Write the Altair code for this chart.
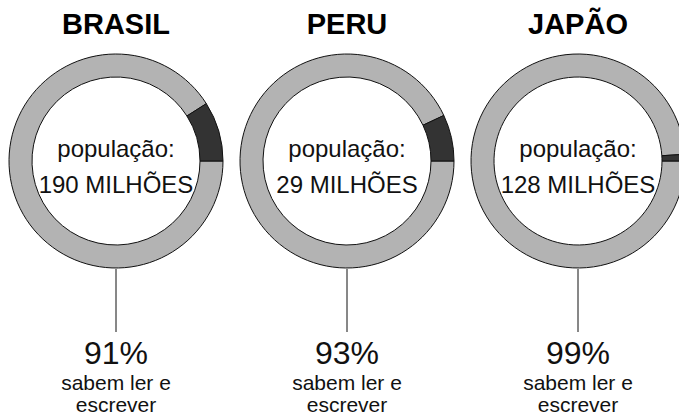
import math
import altair as alt
import pandas as pd

paises = ["BRASIL", "PERU", "JAPÃO"]
populacao = ["190 MILHÕES", "29 MILHÕES", "128 MILHÕES"]
alfabetizados = [91, 93, 99]

rows = []
for p, pop, a in zip(paises, populacao, alfabetizados):
    rows.append({"pais": p, "grupo": "sabem", "pct": a, "ord": 0})
    rows.append({"pais": p, "grupo": "não sabem", "pct": 100 - a, "ord": 1})
arcs_df = pd.DataFrame(rows)

info_df = pd.DataFrame({
    "pais": paises,
    "pop": populacao,
    "label": [f"{a}%" for a in alfabetizados],
})

FONT = "Liberation Sans"
xenc = alt.X("pais:N", sort=paises,
             scale=alt.Scale(type="point", range=[116, 578], padding=0),
             axis=None)

donuts = alt.Chart(arcs_df).transform_stack(
    stack="pct", as_=["t0", "t1"], groupby=["pais"], sort=[alt.SortField("ord")]
).mark_arc(radius=107, radius2=84, stroke="#111111", strokeWidth=1).encode(
    x=xenc,
    y=alt.value(161),
    theta=alt.Theta("t0:Q", scale=alt.Scale(domain=[0, 100], range=[math.pi / 2, math.pi / 2 + 2 * math.pi])),
    theta2="t1:Q",
    color=alt.Color("grupo:N", scale=alt.Scale(domain=["sabem", "não sabem"], range=["#b3b3b3", "#333333"]), legend=None),
)

base = alt.Chart(info_df)

stems = base.mark_rule(color="#111111", strokeWidth=1).encode(
    x=xenc, y=alt.value(269), y2=alt.value(332)
)

titles = base.mark_text(font=FONT, fontSize=29, fontWeight="bold", baseline="alphabetic", color="#000000").encode(
    x=xenc, y=alt.value(34), text="pais:N"
)

pop_lbl = base.mark_text(font=FONT, fontSize=24, baseline="alphabetic", color="#111111", text="população:").encode(
    x=xenc, y=alt.value(157)
)

pop_val = base.mark_text(font=FONT, fontSize=24, baseline="alphabetic", color="#111111").encode(
    x=xenc, y=alt.value(193), text="pop:N"
)

pct_lbl = base.mark_text(font=FONT, fontSize=32, baseline="alphabetic", color="#111111").encode(
    x=xenc, y=alt.value(364), text="label:N"
)

line1 = base.mark_text(font=FONT, fontSize=21, baseline="alphabetic", color="#111111", text="sabem ler e").encode(
    x=xenc, y=alt.value(390)
)

line2 = base.mark_text(font=FONT, fontSize=21, baseline="alphabetic", color="#111111", text="escrever").encode(
    x=xenc, y=alt.value(412)
)

chart = alt.layer(donuts, stems, titles, pop_lbl, pop_val, pct_lbl, line1, line2).properties(
    width=679, height=416, padding=0, autosize=alt.AutoSizeParams(type="none"), background="white"
).configure_view(stroke=None)

chart.save("out.html", embed_options={"renderer": "svg", "actions": False})
